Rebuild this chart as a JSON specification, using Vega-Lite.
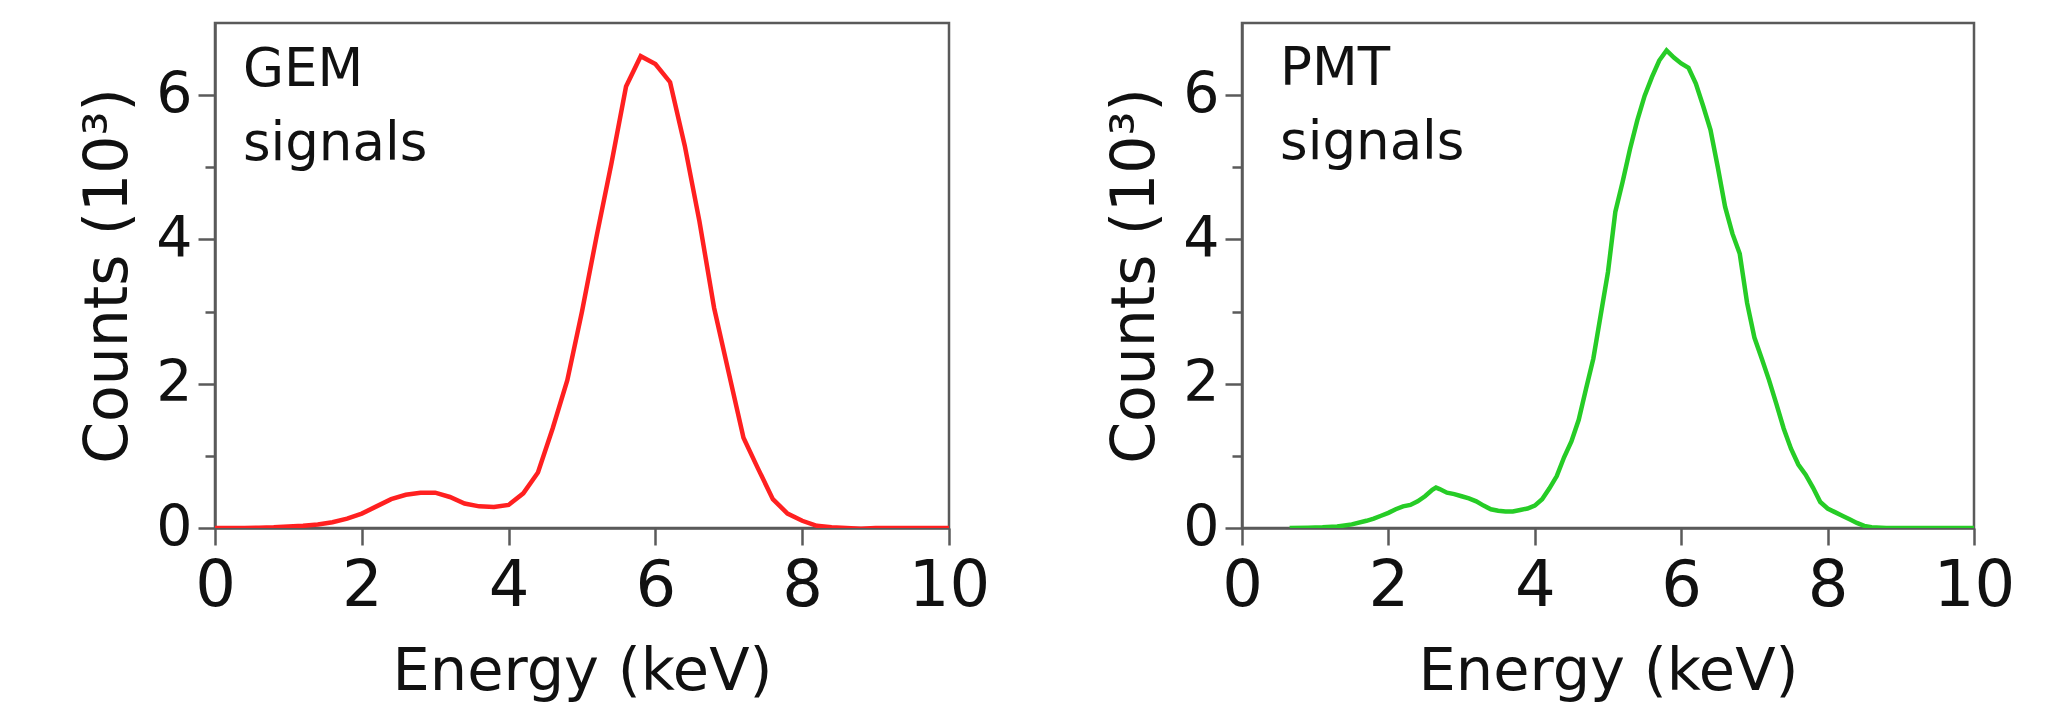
{
  "$schema": "https://vega.github.io/schema/vega-lite/v6.json",
  "background": "white",
  "padding": {"left": 77, "top": 21, "right": 5, "bottom": 0},
  "spacing": 113,
  "config": {
    "font": "DejaVu Sans",
    "view": {"stroke": "#5a5a5a", "strokeWidth": 2.5},
    "axis": {
      "grid": false,
      "domainColor": "#5a5a5a",
      "domainWidth": 2.5,
      "tickColor": "#5a5a5a",
      "tickWidth": 2.5,
      "labelFont": "DejaVu Sans",
      "titleFont": "DejaVu Sans",
      "labelColor": "#111111",
      "titleColor": "#111111",
      "titleFontWeight": "normal",
      "labelFlush": false,
      "labelOverlap": false
    }
  },
  "datasets": {
    "gem": [
      {"energy": 0.0, "counts": 0.0}, {"energy": 0.2, "counts": 0.0}, {"energy": 0.4, "counts": 0.0},
      {"energy": 0.6, "counts": 0.005}, {"energy": 0.8, "counts": 0.01}, {"energy": 1.0, "counts": 0.02},
      {"energy": 1.2, "counts": 0.03}, {"energy": 1.4, "counts": 0.05}, {"energy": 1.6, "counts": 0.08},
      {"energy": 1.8, "counts": 0.13}, {"energy": 2.0, "counts": 0.2}, {"energy": 2.2, "counts": 0.3},
      {"energy": 2.4, "counts": 0.4}, {"energy": 2.6, "counts": 0.46}, {"energy": 2.8, "counts": 0.49},
      {"energy": 3.0, "counts": 0.49}, {"energy": 3.2, "counts": 0.43}, {"energy": 3.4, "counts": 0.34},
      {"energy": 3.6, "counts": 0.3}, {"energy": 3.8, "counts": 0.29}, {"energy": 4.0, "counts": 0.32},
      {"energy": 4.2, "counts": 0.48}, {"energy": 4.4, "counts": 0.77}, {"energy": 4.6, "counts": 1.38},
      {"energy": 4.8, "counts": 2.05}, {"energy": 5.0, "counts": 3.0}, {"energy": 5.2, "counts": 4.05},
      {"energy": 5.4, "counts": 5.05}, {"energy": 5.6, "counts": 6.12}, {"energy": 5.8, "counts": 6.54},
      {"energy": 6.0, "counts": 6.43}, {"energy": 6.2, "counts": 6.18}, {"energy": 6.4, "counts": 5.3},
      {"energy": 6.6, "counts": 4.25}, {"energy": 6.8, "counts": 3.05}, {"energy": 7.0, "counts": 2.15},
      {"energy": 7.2, "counts": 1.25}, {"energy": 7.4, "counts": 0.82}, {"energy": 7.6, "counts": 0.4},
      {"energy": 7.8, "counts": 0.2}, {"energy": 8.0, "counts": 0.1}, {"energy": 8.2, "counts": 0.03},
      {"energy": 8.4, "counts": 0.01}, {"energy": 8.6, "counts": 0.0}, {"energy": 8.8, "counts": -0.01},
      {"energy": 9.0, "counts": 0.0}, {"energy": 9.2, "counts": 0.0}, {"energy": 9.4, "counts": 0.0},
      {"energy": 9.6, "counts": 0.0}, {"energy": 9.8, "counts": 0.0}, {"energy": 10.0, "counts": 0.0}
    ],
    "pmt": [
      {"energy": 0.65, "counts": 0.0}, {"energy": 0.9, "counts": 0.005}, {"energy": 1.1, "counts": 0.01},
      {"energy": 1.3, "counts": 0.02}, {"energy": 1.5, "counts": 0.05}, {"energy": 1.7, "counts": 0.1},
      {"energy": 1.8, "counts": 0.13}, {"energy": 1.9, "counts": 0.17}, {"energy": 2.0, "counts": 0.21},
      {"energy": 2.1, "counts": 0.26}, {"energy": 2.2, "counts": 0.3}, {"energy": 2.3, "counts": 0.32},
      {"energy": 2.4, "counts": 0.37}, {"energy": 2.5, "counts": 0.44}, {"energy": 2.6, "counts": 0.53},
      {"energy": 2.65, "counts": 0.56}, {"energy": 2.7, "counts": 0.54}, {"energy": 2.8, "counts": 0.49},
      {"energy": 2.9, "counts": 0.47}, {"energy": 3.0, "counts": 0.44}, {"energy": 3.1, "counts": 0.41},
      {"energy": 3.2, "counts": 0.37}, {"energy": 3.3, "counts": 0.31}, {"energy": 3.4, "counts": 0.26},
      {"energy": 3.5, "counts": 0.24}, {"energy": 3.6, "counts": 0.23}, {"energy": 3.7, "counts": 0.23},
      {"energy": 3.8, "counts": 0.25}, {"energy": 3.9, "counts": 0.27}, {"energy": 4.0, "counts": 0.31},
      {"energy": 4.1, "counts": 0.4}, {"energy": 4.2, "counts": 0.55}, {"energy": 4.3, "counts": 0.72},
      {"energy": 4.4, "counts": 0.98}, {"energy": 4.5, "counts": 1.2}, {"energy": 4.6, "counts": 1.5},
      {"energy": 4.7, "counts": 1.93}, {"energy": 4.8, "counts": 2.35}, {"energy": 4.9, "counts": 2.95},
      {"energy": 5.0, "counts": 3.55}, {"energy": 5.1, "counts": 4.38}, {"energy": 5.2, "counts": 4.8},
      {"energy": 5.3, "counts": 5.25}, {"energy": 5.4, "counts": 5.65}, {"energy": 5.5, "counts": 5.99},
      {"energy": 5.6, "counts": 6.25}, {"energy": 5.7, "counts": 6.48}, {"energy": 5.8, "counts": 6.62},
      {"energy": 5.9, "counts": 6.52}, {"energy": 6.0, "counts": 6.44}, {"energy": 6.1, "counts": 6.38},
      {"energy": 6.2, "counts": 6.16}, {"energy": 6.3, "counts": 5.85}, {"energy": 6.4, "counts": 5.52},
      {"energy": 6.5, "counts": 5.0}, {"energy": 6.6, "counts": 4.45}, {"energy": 6.7, "counts": 4.08},
      {"energy": 6.8, "counts": 3.8}, {"energy": 6.9, "counts": 3.12}, {"energy": 7.0, "counts": 2.64},
      {"energy": 7.1, "counts": 2.35}, {"energy": 7.2, "counts": 2.05}, {"energy": 7.3, "counts": 1.72},
      {"energy": 7.4, "counts": 1.38}, {"energy": 7.5, "counts": 1.1}, {"energy": 7.6, "counts": 0.88},
      {"energy": 7.7, "counts": 0.74}, {"energy": 7.8, "counts": 0.56}, {"energy": 7.9, "counts": 0.36},
      {"energy": 8.0, "counts": 0.27}, {"energy": 8.1, "counts": 0.22}, {"energy": 8.2, "counts": 0.17},
      {"energy": 8.3, "counts": 0.12}, {"energy": 8.4, "counts": 0.07}, {"energy": 8.5, "counts": 0.03},
      {"energy": 8.6, "counts": 0.01}, {"energy": 8.8, "counts": 0.0}, {"energy": 9.0, "counts": 0.0},
      {"energy": 9.5, "counts": 0.0}, {"energy": 10.0, "counts": 0.0}
    ],
    "gemLabel": [
      {"energy": 0.38, "counts": 6.13, "text": "GEM"},
      {"energy": 0.38, "counts": 5.1, "text": "signals"}
    ],
    "pmtLabel": [
      {"energy": 0.52, "counts": 6.14, "text": "PMT"},
      {"energy": 0.52, "counts": 5.11, "text": "signals"}
    ]
  },
  "hconcat": [
    {
      "width": 734,
      "height": 505,
      "layer": [
        {
          "data": {"name": "gem"},
          "mark": {"type": "line", "color": "#ff2020", "strokeWidth": 4.5, "clip": true},
          "encoding": {
            "x": {"field": "energy", "type": "quantitative"},
            "y": {"field": "counts", "type": "quantitative"}
          }
        },
        {
          "data": {"name": "gemLabel"},
          "mark": {"type": "text", "align": "left", "baseline": "alphabetic", "fontSize": 53, "color": "#111111"},
          "encoding": {
            "x": {"field": "energy", "type": "quantitative"},
            "y": {"field": "counts", "type": "quantitative"},
            "text": {"field": "text"}
          }
        }
      ],
      "encoding": {
        "x": {
          "field": "energy", "type": "quantitative",
          "scale": {"domain": [0, 10], "nice": false, "zero": false},
          "axis": {
            "title": "Energy (keV)", "values": [0, 2, 4, 6, 8, 10],
            "tickSize": 17, "labelFontSize": 64, "labelPadding": 9,
            "titleFontSize": 59, "titlePadding": 24
          }
        },
        "y": {
          "field": "counts", "type": "quantitative",
          "scale": {"domain": [0, 7], "nice": false},
          "axis": {
            "title": "Counts (10³)", "values": [0, 1, 2, 3, 4, 5, 6],
            "tickSize": {"condition": {"test": "datum.value % 2 === 1", "value": 10}, "value": 17},
            "labelExpr": "datum.value % 2 === 1 ? '' : datum.label",
            "labelFontSize": 57, "labelPadding": 6,
            "titleFontSize": 60, "titlePadding": 16
          }
        }
      }
    },
    {
      "width": 732,
      "height": 505,
      "layer": [
        {
          "data": {"name": "pmt"},
          "mark": {"type": "line", "color": "#26cc26", "strokeWidth": 4.5, "clip": true},
          "encoding": {
            "x": {"field": "energy", "type": "quantitative"},
            "y": {"field": "counts", "type": "quantitative"}
          }
        },
        {
          "data": {"name": "pmtLabel"},
          "mark": {"type": "text", "align": "left", "baseline": "alphabetic", "fontSize": 53, "color": "#111111"},
          "encoding": {
            "x": {"field": "energy", "type": "quantitative"},
            "y": {"field": "counts", "type": "quantitative"},
            "text": {"field": "text"}
          }
        }
      ],
      "encoding": {
        "x": {
          "field": "energy", "type": "quantitative",
          "scale": {"domain": [0, 10], "nice": false, "zero": false},
          "axis": {
            "title": "Energy (keV)", "values": [0, 2, 4, 6, 8, 10],
            "tickSize": 17, "labelFontSize": 64, "labelPadding": 9,
            "titleFontSize": 59, "titlePadding": 24
          }
        },
        "y": {
          "field": "counts", "type": "quantitative",
          "scale": {"domain": [0, 7], "nice": false},
          "axis": {
            "title": "Counts (10³)", "values": [0, 1, 2, 3, 4, 5, 6],
            "tickSize": {"condition": {"test": "datum.value % 2 === 1", "value": 10}, "value": 17},
            "labelExpr": "datum.value % 2 === 1 ? '' : datum.label",
            "labelFontSize": 57, "labelPadding": 6,
            "titleFontSize": 60, "titlePadding": 16
          }
        }
      }
    }
  ]
}
